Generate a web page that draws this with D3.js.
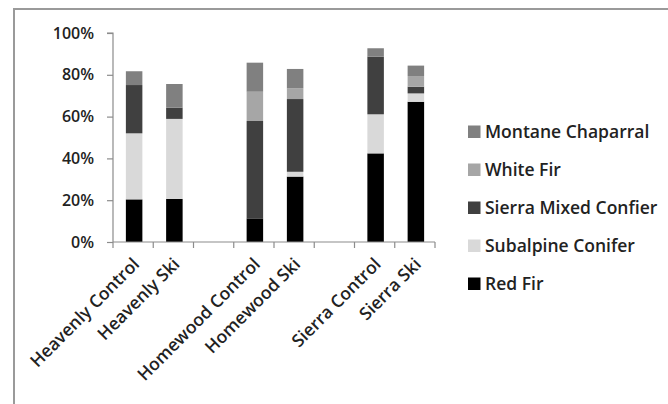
<!DOCTYPE html>
<html><head><meta charset="utf-8">
<script src="https://cdn.jsdelivr.net/npm/d3@7"></script>
<style>html,body{margin:0;padding:0;background:#fff;}svg{display:block;}</style>
</head><body>
<svg id="chart" width="668" height="404"></svg>
<script>
// Categories (blank slots separate the three sites)
const categories = ["Heavenly Control", "Heavenly Ski", "gap1", "Homewood Control", "Homewood Ski", "gap2", "Sierra Control", "Sierra Ski"];
const blanks = ["gap1", "gap2"];
// Series (stack order bottom to top), values in %
const seriesNames = ["Red Fir", "Subalpine Conifer", "Sierra Mixed Confier", "White Fir", "Montane Chaparral"];
const redFir          = [20.4, 20.6, 0, 11.3, 31.3, 0, 42.4, 67.1];
const subalpine       = [31.6, 38.3, 0, 0,    2.3,  0, 18.7, 4.0];
const sierraMixed     = [23.1, 5.4,  0, 46.6, 34.8, 0, 27.6, 3.2];
const whiteFir        = [0,    0,    0, 14.0, 5.1,  0, 0,    5.1];
const montane         = [6.6,  11.3, 0, 13.9, 9.3,  0, 4.0,  5.0];
const seriesColors = ["#000000", "#d9d9d9", "#404040", "#a6a6a6", "#808080"];
const yTicks = [0, 20, 40, 60, 80, 100];
const legendOrder = ["Montane Chaparral", "White Fir", "Sierra Mixed Confier", "Subalpine Conifer", "Red Fir"];

const seriesValues = [redFir, subalpine, sierraMixed, whiteFir, montane];
const rows = categories.map((c, i) => {
  const r = {cat: c};
  seriesNames.forEach((s, j) => r[s] = seriesValues[j][i]);
  return r;
});

const svg = d3.select("#chart");
const font = "'Open Sans', sans-serif";
const fsNum = 16, fsText = 17.5;

// outer border
svg.append("rect").attr("x", 14).attr("y", 9).attr("width", 700).attr("height", 450)
  .attr("fill", "none").attr("stroke", "#9a9a9a").attr("stroke-width", 2);

const x = d3.scaleBand().domain(categories).range([113, 435]).paddingInner(0).paddingOuter(0);
const y = d3.scaleLinear().domain([0, 100]).range([242, 33]);
const color = d3.scaleOrdinal().domain(seriesNames).range(seriesColors);

const stack = d3.stack().keys(seriesNames);
const stacked = stack(rows);
const barW = 16.5;

svg.append("g").selectAll("g").data(stacked).join("g")
  .attr("fill", d => color(d.key))
  .selectAll("rect").data(d => d.filter(p => p[1] - p[0] > 0)).join("rect")
  .attr("x", d => x(d.data.cat) + x.bandwidth() / 2 - barW / 2 + 1)
  .attr("width", barW)
  .attr("y", d => y(d[1]))
  .attr("height", d => y(d[0]) - y(d[1]));

// y axis
const yAxis = d3.axisLeft(y).tickValues(yTicks).tickSize(6).tickPadding(13).tickFormat(d => d + "%");
const gy = svg.append("g").attr("transform", "translate(113,0)").call(yAxis);
gy.selectAll("path,line").attr("stroke", "#8c8c8c").attr("stroke-width", 1.2);
gy.select(".domain").attr("d", `M-6,${y(100)}H0V${y(0)}`);
gy.selectAll("text").attr("font-family", font).attr("font-size", fsNum).attr("font-weight", 600).attr("fill", "#222");

// x axis line and boundary ticks
const gx = svg.append("g");
gx.append("line").attr("x1", x.range()[0]).attr("x2", x.range()[1]).attr("y1", y(0)).attr("y2", y(0))
  .attr("stroke", "#8c8c8c").attr("stroke-width", 1.2);
const bounds = categories.map(c => x(c)).concat([x.range()[1]]);
gx.selectAll("line.tk").data(bounds).join("line").attr("class", "tk")
  .attr("x1", d => d).attr("x2", d => d).attr("y1", y(0)).attr("y2", y(0) + 6)
  .attr("stroke", "#8c8c8c").attr("stroke-width", 1.2);
gx.selectAll("text").data(categories.filter(c => !blanks.includes(c))).join("text")
  .attr("transform", d => `translate(${x(d) + x.bandwidth() / 2 + 3},261) rotate(-45)`)
  .attr("text-anchor", "end").attr("dy", "0.35em")
  .attr("font-family", font).attr("font-size", fsText).attr("font-weight", 600).attr("fill", "#222")
  .text(d => d);

// legend
const lg = svg.append("g").selectAll("g").data(legendOrder).join("g")
  .attr("transform", (d, i) => `translate(468,${131.5 + i * 38})`);
lg.append("rect").attr("x", 0).attr("y", -6).attr("width", 12.5).attr("height", 12.5).attr("fill", d => color(d));
lg.append("text").attr("x", 17).attr("y", 0).attr("dy", "0.36em")
  .attr("font-family", font).attr("font-size", fsText).attr("font-weight", 600).attr("fill", "#222")
  .text(d => d);
</script>
</body></html>
